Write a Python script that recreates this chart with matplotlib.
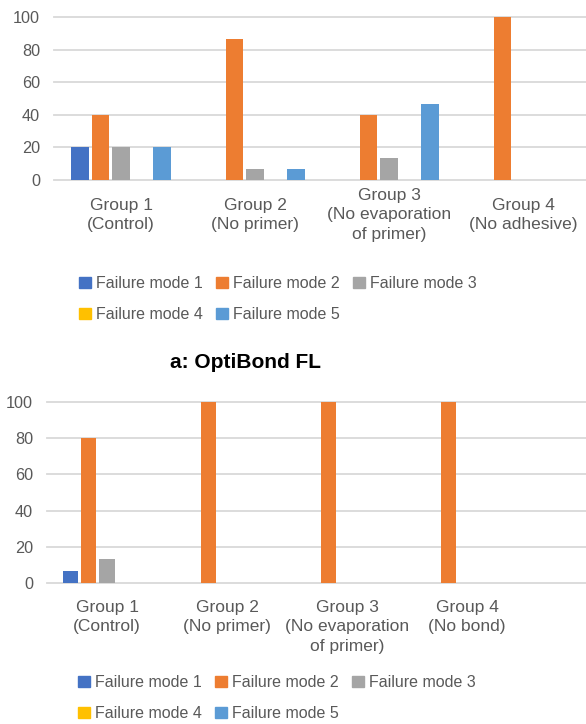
import matplotlib.pyplot as plt
import numpy as np
from matplotlib.patches import Patch

plt.rcParams['font.family'] = ['Liberation Sans', 'DejaVu Sans']

# Failure mode percentages per group
modes = ['Failure mode 1', 'Failure mode 2', 'Failure mode 3',
         'Failure mode 4', 'Failure mode 5']
colors = ['#4472C4', '#ED7D31', '#A5A5A5', '#FFC000', '#5B9BD5']

groups_a = ['Group 1\n(Control)', 'Group 2\n(No primer)',
            'Group 3\n(No evaporation\nof primer)', 'Group 4\n(No adhesive)']
mode1_a = [20, 0, 0, 0]
mode2_a = [40, 86.7, 40, 100]
mode3_a = [20, 6.7, 13.3, 0]
mode4_a = [0, 0, 0, 0]
mode5_a = [20, 6.7, 46.7, 0]

groups_b = ['Group 1\n(Control)', 'Group 2\n(No primer)',
            'Group 3\n(No evaporation\nof primer)', 'Group 4\n(No bond)']
mode1_b = [6.7, 0, 0, 0]
mode2_b = [80, 100, 100, 100]
mode3_b = [13.3, 0, 0, 0]
mode4_b = [0, 0, 0, 0]
mode5_b = [0, 0, 0, 0]

yticks = [0, 20, 40, 60, 80, 100]

grey_text = '#595959'
grid_col = '#D9D9D9'

fig = plt.figure(figsize=(5.86, 7.24), dpi=100)


def draw(ax, groups, series, xmax, label_offset, label_va):
    x = np.arange(len(groups))
    step, width = 0.153, 0.127
    for j, vals in enumerate(series):
        ax.bar(x + (j - 2) * step, vals, width, color=colors[j], zorder=3)
    ax.set_xlim(-0.5, xmax)
    ax.set_ylim(0, 100)
    ax.set_yticks(yticks)
    for y in yticks:
        ax.axhline(y, color=grid_col, lw=1.3, zorder=1, clip_on=False)
    for s in ax.spines.values():
        s.set_visible(False)
    ax.set_xticks([])
    ax.tick_params(axis='y', length=0, pad=10, labelsize=11.7,
                   labelcolor=grey_text)
    for i, g in enumerate(groups):
        ax.annotate(g, xy=(i, 0), xycoords=('data', 'axes fraction'),
                    xytext=(0, label_offset), textcoords='offset pixels',
                    ha='center', va=label_va, fontsize=12.5,
                    color=grey_text, linespacing=1.35, annotation_clip=False)


ax1 = fig.add_axes([54 / 586, 1 - 180 / 724, 532 / 586, 163 / 724])
draw(ax1, groups_a, [mode1_a, mode2_a, mode3_a, mode4_a, mode5_a],
     -0.5 + 532 / 134, -35, 'center')

ax2 = fig.add_axes([47 / 586, 1 - 583.3 / 724, 539 / 586, 181.6 / 724])
draw(ax2, groups_b, [mode1_b, mode2_b, mode3_b, mode4_b, mode5_b],
     -0.5 + 539 / 120, -17, 'top')

# legend filled row by row: 1 2 3 / 4 5
patches = [Patch(color=c, label=m) for c, m in zip(colors, modes)]
handles = [patches[i] for i in (0, 3, 1, 4, 2)]
for ytop, xleft in [(276, 79), (675, 78)]:
    fig.legend(handles=handles, loc='upper left',
               bbox_to_anchor=(xleft / 586, 1 - ytop / 724),
               ncol=3, frameon=False, fontsize=11.5, labelcolor=grey_text,
               handlelength=0.72, handleheight=0.72, handletextpad=0.33,
               columnspacing=0.85, labelspacing=1.0, borderpad=0,
               borderaxespad=0)

fig.text(245 / 586, 1 - 363 / 724, 'a: OptiBond FL', ha='center',
         va='center', fontsize=15, fontweight='bold', color='black')

fig.savefig('out.png', dpi=100)
